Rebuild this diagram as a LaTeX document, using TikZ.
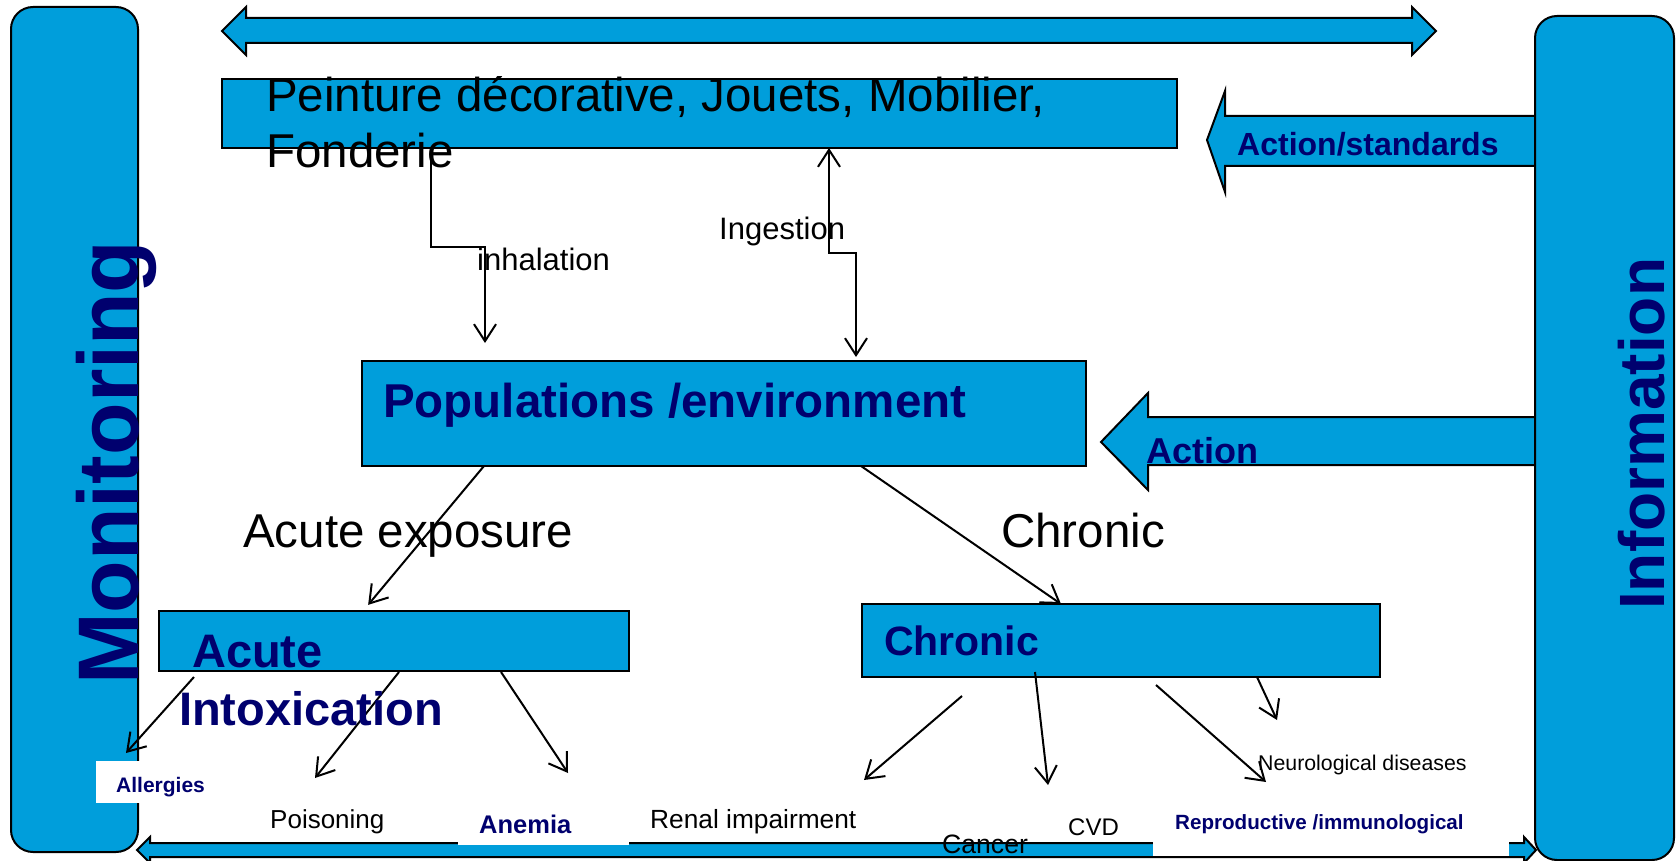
\documentclass[tikz,border=0pt]{standalone}
\usepackage{fontspec}
\setmainfont{Liberation Sans}
\usetikzlibrary{arrows.meta}
\definecolor{myblue}{RGB}{0,158,219}
\definecolor{navy}{RGB}{0,0,110}
\newcommand\fsz[1]{\fontsize{#1}{#1}\selectfont}
\begin{document}
\begin{tikzpicture}[x=1pt,y=-1pt,
 box/.style={draw=black,line width=2pt,fill=myblue,inner sep=0pt,outer sep=0pt,anchor=north west},
 sidebox/.style={box,rounded corners=22pt},
 blockarrow/.style={draw=black,line width=2pt,fill=myblue,line join=miter},
 conn/.style={draw=black,line width=2pt,-{Straight Barb[length=17pt,width=22pt]}},
 conn2/.style={draw=black,line width=2pt,{Straight Barb[length=17pt,width=22pt]}-{Straight Barb[length=17pt,width=22pt]}},
 txt/.style={inner sep=0pt,anchor=base west,text=black},
 btxt/.style={txt,text=navy},
]
\useasboundingbox (0,0) rectangle (1676,861);

% block arrows
\draw[blockarrow] (222,31) -- (246,7) -- (246,18) -- (1412,18) -- (1412,7) -- (1436,31)
  -- (1412,55) -- (1412,43) -- (246,43) -- (246,55) -- cycle;
\draw[blockarrow] (1207,140) -- (1225,91) -- (1225,116) -- (1545,116) -- (1545,166)
  -- (1225,166) -- (1225,192) -- cycle;
\draw[blockarrow] (1101,442) -- (1148,393) -- (1148,417) -- (1545,417) -- (1545,465)
  -- (1148,465) -- (1148,490) -- cycle;
\draw[blockarrow] (137,850) -- (150,837) -- (150,843) -- (1524,843) -- (1524,837) -- (1536,850)
  -- (1524,863) -- (1524,857) -- (150,857) -- (150,863) -- cycle;

% side boxes
\node[sidebox, minimum width=127, minimum height=845] (mon) at (11,7) {};
\node[sidebox, minimum width=139, minimum height=844] (info) at (1535,16) {};

% white text backgrounds
\fill[white] (96,761) rectangle (215,803);
\fill[white] (458,812) rectangle (629,844.5);
\fill[white] (1153,800) rectangle (1509,855.6);

% main boxes
\node[box, minimum width=955, minimum height=69] (peint) at (222,79) {};
\node[box, minimum width=724.5, minimum height=105] (pop) at (361.5,361) {};
\node[box, minimum width=470, minimum height=60] (acute) at (159,611) {};
\node[box, minimum width=518, minimum height=73] (chron) at (862,604) {};

% connectors
\coordinate (inhK) at (485,247);
\coordinate (ingK) at (856,253);
\draw[conn, shorten >=18pt] ([xshift=209pt]peint.south west) |- (inhK) -- (inhK |- pop.north);
\draw[conn2, shorten >=4pt] ([xshift=607pt]peint.south west) |- (ingK) -- (ingK |- pop.north);
\draw[conn, shorten >=8pt] ([xshift=122.5pt]pop.south west) -- ([xshift=204pt]acute.north west);
\draw[conn] ([xshift=499.5pt]pop.south west) -- ([xshift=199pt]chron.north west);

\coordinate (tAll) at (126,753);
\coordinate (tPois) at (315,778);
\coordinate (tAnem) at (568,773);
\coordinate (tRen) at (864,780);
\coordinate (tCan) at (1048,785);
\coordinate (tRep) at (1266,782);
\coordinate (tNeu) at (1277,720);
\draw[conn] ([shift={(35,6)}]acute.south west) -- (tAll);
\draw[conn] ([shift={(240,1)}]acute.south west) -- (tPois);
\draw[conn] ([shift={(342,1)}]acute.south west) -- (tAnem);
\draw[conn] ([shift={(100,19)}]chron.south west) -- (tRen);
\draw[conn] ([shift={(173,-5)}]chron.south west) -- (tCan);
\draw[conn] ([shift={(294,8)}]chron.south west) -- (tRep);
\draw[conn] ([shift={(395,0)}]chron.south west) -- (tNeu);

% texts
\node[btxt, rotate=90, font=\fsz{86}\bfseries] (tmon) at (138,685) {Monitoring};
\node[btxt, rotate=90, font=\fsz{64}\bfseries] (tinfo) at (1664,610) {Information};
\node[txt, font=\fsz{47.5}] (tpa) at (266,112) {Peinture décorative, Jouets, Mobilier,};
\node[txt, font=\fsz{47.5}] (tpb) at (266,168) {Fonderie};
\node[txt, font=\fsz{31}] (tinh) at (477,270) {inhalation};
\node[txt, font=\fsz{31}] (ting) at (719,240) {Ingestion};
\node[btxt, font=\fsz{47.5}\bfseries] (tpop) at (383,417) {Populations /environment};
\node[btxt, font=\fsz{32}\bfseries] (tas) at (1237,156) {Action/standards};
\node[btxt, font=\fsz{36}\bfseries] (tact) at (1146,463) {Action};
\node[txt, font=\fsz{47.5}] (tae) at (243,547) {Acute exposure};
\node[txt, font=\fsz{47.5}] (tch) at (1001,547) {Chronic};
\node[btxt, font=\fsz{41}\bfseries] (tchb) at (884,655) {Chronic};
\node[btxt, font=\fsz{47}\bfseries] (tac) at (192,667) {Acute};
\node[btxt, font=\fsz{47}\bfseries] (tint) at (179,725) {Intoxication};
\node[btxt, font=\fsz{21}\bfseries] (tall) at (116,792) {Allergies};
\node[txt, font=\fsz{26}] (tpois) at (270,828) {Poisoning};
\node[btxt, font=\fsz{25.5}\bfseries] (tanem) at (479,833) {Anemia};
\node[txt, font=\fsz{26.3}] (tren) at (650,828) {Renal impairment};
\node[txt, font=\fsz{26.6}] (tcan) at (942,853) {Cancer};
\node[txt, font=\fsz{24}] (tcvd) at (1068,835) {CVD};
\node[btxt, font=\fsz{20.6}\bfseries] (trep) at (1175,829) {Reproductive /immunological};
\node[txt, font=\fsz{21.3}] (tneu) at (1258,770) {Neurological diseases};
\end{tikzpicture}
\end{document}
